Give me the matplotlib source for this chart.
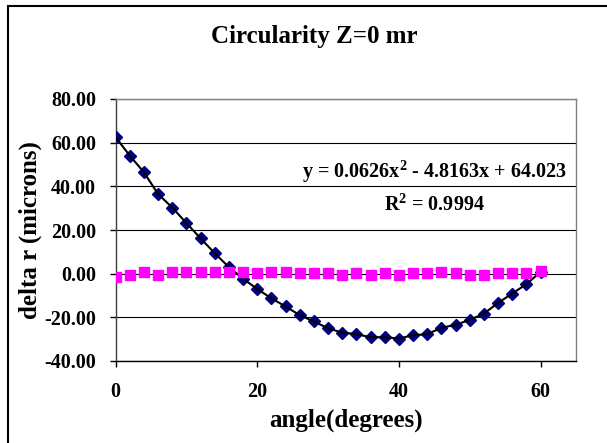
import numpy as np
import matplotlib
matplotlib.use('Agg')
import matplotlib.pyplot as plt
from matplotlib.patches import Rectangle

plt.rcParams['font.family'] = ['Liberation Serif', 'DejaVu Serif']
plt.rcParams['font.weight'] = 'bold'
plt.rcParams['mathtext.fontset'] = 'custom'
plt.rcParams['mathtext.rm'] = 'Liberation Serif:bold'
plt.rcParams['mathtext.bf'] = 'Liberation Serif:bold'

# data
angle = [0, 2, 4, 6, 8, 10, 12, 14, 16, 18, 20, 22, 24, 26, 28, 30,
         32, 34, 36, 38, 40, 42, 44, 46, 48, 50, 52, 54, 56, 58, 60]
delta_r = [62.6, 54.1, 46.5, 36.5, 30.3, 23.2, 16.2, 9.4, 3.0, -2.3, -7.0,
           -11.3, -15.0, -19.0, -21.9, -25.0, -27.0, -27.7, -29.1, -29.1,
           -29.7, -28.2, -27.7, -24.8, -23.4, -21.2, -18.3, -13.4, -9.1,
           -4.8, 0.8]
delta_r2 = [-1.3, -0.6, 0.6, -0.6, 0.8, 0.8, 0.8, 0.8, 0.7, 0.6, 0.2, 0.6,
            0.6, 0.2, 0.2, 0.2, -0.5, 0.2, -0.5, 0.2, -0.5, 0.2, 0.2, 0.8,
            0.3, -0.4, -0.4, 0.3, 0.3, 0.3, 1.4]
yticks = [-40, -20, 0, 20, 40, 60, 80]
xticks = [0, 20, 40, 60]

W, H = 607, 443
fig = plt.figure(figsize=(W / 100, H / 100), dpi=100)
ax = fig.add_axes([115.5 / W, 1 - 361 / H, 460.5 / W, 262 / H])

# series
ax.plot(angle, delta_r, 'D', color='#000080', markersize=6, zorder=3)
ax.plot(angle, delta_r, '-', color='black', linewidth=1.5, zorder=4)
ax.plot(angle, delta_r2, 's', color='#FF00FF', markersize=6.5, zorder=5)

ax.set_xlim(0, 65)
ax.set_ylim(-40, 80)
ax.set_xticks(xticks)
ax.set_yticks(yticks)
ax.set_yticklabels(['%.2f' % v for v in yticks])
ax.yaxis.grid(True, color='black', linewidth=0.8)
ax.set_axisbelow(True)

ax.tick_params(axis='both', direction='out', length=4, width=1,
               labelsize=14.5, colors='black')
ax.tick_params(axis='x', pad=11)
ax.tick_params(axis='y', pad=10)
for lbl in ax.get_xticklabels() + ax.get_yticklabels():
    lbl.set_fontweight('bold')

ax.spines['left'].set_color('#404040')
ax.spines['bottom'].set_color('black')
ax.spines['top'].set_color('#808080')
ax.spines['right'].set_color('#808080')
for s in ax.spines.values():
    s.set_linewidth(1)

ax.set_xlabel('angle(degrees)', fontsize=18, fontweight='bold', va='center')
ax.xaxis.set_label_coords(0.5, -(420 - 361) / 262)
ax.set_ylabel('delta r (microns)', fontsize=18, fontweight='bold', va='center')
ax.yaxis.set_label_coords((30.7 - 115.5) / 460.5, 0.5)

# trendline label
ax.text(0.9805, 0.698, r'y = 0.0626x$^{2}$ - 4.8163x + 64.023',
        transform=ax.transAxes, ha='right', va='baseline', fontsize=14.5,
        fontweight='bold')
ax.text(0.6916, 0.5737, r'R$^{2}$ = 0.9994', transform=ax.transAxes,
        ha='center', va='baseline', fontsize=14.5, fontweight='bold')

fig.text(314 / W, 1 - 36 / H, 'Circularity Z=0 mr', ha='center', va='center',
         fontsize=18, fontweight='bold')

# chart border
fig.patches.append(Rectangle((7.5 / W, -0.1), 1.2, 1 - 5.5 / H + 0.1,
                             transform=fig.transFigure, fill=False,
                             edgecolor='black', linewidth=1.5))

plt.savefig('out.png', dpi=100)
